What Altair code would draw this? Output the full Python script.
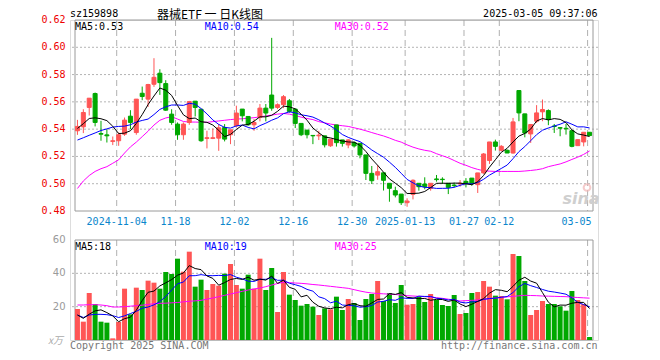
import altair as alt
import pandas as pd

# ---------------- data ----------------
dates = [
    "2024-10-24", "2024-10-25", "2024-10-28", "2024-10-29", "2024-10-30", "2024-10-31",
    "2024-11-01", "2024-11-04", "2024-11-05", "2024-11-06", "2024-11-07", "2024-11-08",
    "2024-11-11", "2024-11-12", "2024-11-13", "2024-11-14", "2024-11-15", "2024-11-18",
    "2024-11-19", "2024-11-20", "2024-11-21", "2024-11-22", "2024-11-25", "2024-11-26",
    "2024-11-27", "2024-11-28", "2024-11-29", "2024-12-02", "2024-12-03", "2024-12-04",
    "2024-12-05", "2024-12-06", "2024-12-09", "2024-12-10", "2024-12-11", "2024-12-12",
    "2024-12-13", "2024-12-16", "2024-12-17", "2024-12-18", "2024-12-19", "2024-12-20",
    "2024-12-23", "2024-12-24", "2024-12-25", "2024-12-26", "2024-12-27", "2024-12-30",
    "2024-12-31", "2025-01-02", "2025-01-03", "2025-01-06", "2025-01-07", "2025-01-08",
    "2025-01-09", "2025-01-10", "2025-01-13", "2025-01-14", "2025-01-15", "2025-01-16",
    "2025-01-17", "2025-01-20", "2025-01-21", "2025-01-22", "2025-01-23", "2025-01-24",
    "2025-01-27", "2025-02-05", "2025-02-06", "2025-02-07", "2025-02-10", "2025-02-11",
    "2025-02-12", "2025-02-13", "2025-02-14", "2025-02-17", "2025-02-18", "2025-02-19",
    "2025-02-20", "2025-02-21", "2025-02-24", "2025-02-25", "2025-02-26", "2025-02-27",
    "2025-02-28", "2025-03-03", "2025-03-04", "2025-03-05",
]

opens = [
    .5388, .5417, .5559, .5661, .5368, .5358, .5310, .5315, .5363, .5495,
    .5375, .5663, .5620, .5729, .5810, .5734, .5510, .5437, .5359, .5449,
    .5605, .5546, .5332, .5332, .5334, .5412, .5359, .5425, .5547, .5493,
    .5432, .5486, .5554, .5650, .5559, .5579, .5608, .5547, .5442, .5393,
    .5354, .5351, .5351, .5278, .5431, .5321, .5284, .5301, .5296, .5211,
    .5076, .5063, .5080, .5003, .4949, .4924, .4861, .4922, .5003, .4998,
    .4966, .5035, .5033, .5003, .4990, .4998, .5017, .5041, .4993, .5079,
    .5170, .5306, .5245, .5245, .5225, .5683, .5512, .5365, .5458, .5527,
    .5536, .5423, .5411, .5406, .5389, .5279, .5306, .5377,
]
highs = [
    .5468, .5546, .5627, .5668, .5461, .5400, .5346, .5376, .5485, .5539,
    .5621, .5712, .5732, .5920, .5839, .5759, .5546, .5449, .5449, .5607,
    .5605, .5546, .5388, .5405, .5437, .5437, .5395, .5572, .5547, .5493,
    .5474, .5584, .5584, .6069, .5589, .5650, .5621, .5550, .5442, .5393,
    .5356, .5388, .5351, .5327, .5431, .5321, .5326, .5310, .5296, .5211,
    .5130, .5137, .5080, .5003, .4978, .4924, .4893, .5032, .5003, .5047,
    .5003, .5064, .5047, .5003, .5008, .5027, .5041, .5041, .5079, .5225,
    .5306, .5323, .5283, .5250, .5482, .5683, .5512, .5438, .5576, .5617,
    .5545, .5438, .5415, .5438, .5389, .5323, .5377, .5377,
]
lows = [
    .5358, .5371, .5500, .5420, .5315, .5302, .5283, .5278, .5351, .5400,
    .5359, .5612, .5563, .5710, .5651, .5534, .5432, .5322, .5322, .5432,
    .5493, .5307, .5259, .5327, .5241, .5310, .5290, .5412, .5457, .5425,
    .5388, .5457, .5457, .5535, .5547, .5554, .5520, .5408, .5349, .5332,
    .5290, .5320, .5266, .5270, .5272, .5272, .5260, .5265, .5186, .5027,
    .4998, .5029, .4950, .4868, .4900, .4844, .4831, .4885, .4949, .4959,
    .4949, .5015, .4998, .4924, .4973, .4978, .4973, .4985, .4932, .5073,
    .5145, .5243, .5238, .5225, .5220, .5458, .5340, .5299, .5445, .5458,
    .5429, .5372, .5348, .5360, .5267, .5279, .5274, .5353,
]
closes = [
    .5420, .5522, .5627, .5449, .5363, .5351, .5315, .5359, .5466, .5449,
    .5620, .5639, .5727, .5780, .5741, .5539, .5449, .5359, .5437, .5602,
    .5559, .5315, .5337, .5337, .5410, .5327, .5395, .5518, .5498, .5432,
    .5449, .5554, .5518, .5554, .5579, .5638, .5530, .5442, .5359, .5359,
    .5351, .5356, .5285, .5327, .5301, .5296, .5321, .5277, .5211, .5076,
    .5022, .5088, .5025, .4966, .4917, .4861, .4873, .5025, .4978, .4978,
    .5003, .5030, .5030, .4973, .4986, .5003, .5002, .5002, .5079, .5218,
    .5306, .5274, .5274, .5225, .5453, .5519, .5372, .5434, .5519, .5544,
    .5470, .5419, .5407, .5402, .5274, .5323, .5377, .5353,
]
volumes = [
    18.6, 11.0, 28.2, 21.6, 11.0, 10.4, 1.0, 10.8, 30.8, 15.4,
    31.4, 30.0, 35.6, 34.4, 30.8, 40.8, 39.6, 48.8, 41.0, 53.0,
    32.0, 36.2, 30.0, 33.6, 32.6, 39.8, 45.6, 33.0, 30.8, 39.2,
    30.8, 48.8, 30.0, 43.2, 16.8, 40.8, 27.2, 24.0, 20.6, 21.6,
    20.0, 15.0, 19.0, 18.4, 26.0, 18.0, 24.6, 22.2, 12.0, 24.6,
    27.6, 35.4, 23.4, 28.2, 22.2, 33.0, 21.2, 21.6, 26.0, 22.8,
    27.6, 24.0, 21.0, 20.4, 27.0, 15.6, 16.2, 28.2, 28.8, 35.4,
    32.0, 26.6, 26.4, 24.4, 51.6, 50.4, 35.4, 15.0, 18.0, 23.4,
    21.6, 21.6, 20.2, 17.6, 29.4, 24.0, 21.6, 1.8,
]
# 30-day averages (they need history before the window)
ma30 = [
    .4965, .5020, .5060, .5090, .5110, .5125, .5150, .5175, .5225, .5270,
    .5305, .5345, .5385, .5430, .5465, .5482, .5491, .5474, .5456, .5452,
    .5452, .5450, .5450, .5455, .5460, .5465, .5470, .5474, .5476, .5480,
    .5484, .5490, .5497, .5503, .5510, .5515, .5510, .5500, .5488, .5478,
    .5470, .5455, .5446, .5437, .5430, .5425, .5420, .5410, .5400, .5388,
    .5375, .5362, .5350, .5335, .5318, .5305, .5285, .5268, .5255, .5245,
    .5238, .5220, .5205, .5190, .5170, .5150, .5135, .5118, .5105, .5095,
    .5092, .5090, .5090, .5090, .5090, .5090, .5093, .5097, .5102, .5110,
    .5125, .5135, .5145, .5160, .5178, .5195, .5215, .5240,
]
vma30 = [
    21.0, 21.0, 21.2, 21.2, 21.0, 20.6, 19.8, 19.8, 20.0, 20.3,
    20.6, 20.9, 21.3, 21.8, 22.0, 22.1, 22.3, 22.5, 22.9, 23.2,
    23.5, 23.8, 24.5, 25.2, 26.0, 26.8, 27.6, 28.4, 29.2, 30.0,
    30.6, 31.2, 32.0, 33.0, 33.9, 34.6, 34.4, 34.2, 34.0, 33.7,
    33.3, 33.0, 32.6, 32.2, 31.8, 31.4, 31.0, 30.2, 29.4, 28.7,
    28.2, 27.9, 27.7, 27.5, 27.3, 27.0, 26.6, 26.4, 26.2, 26.0,
    25.8, 25.4, 25.0, 24.5, 24.0, 23.4, 23.6, 23.8, 24.0, 24.4,
    24.8, 25.2, 25.5, 25.9, 26.2, 26.5, 26.8, 26.7, 26.6, 26.4,
    26.3, 26.2, 26.1, 26.0, 25.7, 25.5, 25.3, 25.1,
]
# first values of the short averages
ma5_head = [0.5405, 0.5440, 0.5478, 0.5483]
ma10_head = [0.5320, 0.5337, 0.5355, 0.5372, 0.5390, 0.5402, 0.5415, 0.5420, 0.5422]
vma5_head = [15.0, 13.0, 15.5, 17.5]
vma10_head = [15.0, 13.5, 15.0, 15.4, 15.4, 15.2, 14.6, 13.5, 14.5]

tick_dates = ["2024-11-04", "2024-11-18", "2024-12-02", "2024-12-16", "2024-12-30",
              "2025-01-13", "2025-01-27", "2025-02-12", "2025-03-05"]
tick_labels = ["2024-11-04", "11-18", "12-02", "12-16", "12-30",
               "2025-01-13", "01-27", "02-12", "03-05"]
price_levels = [0.48, 0.50, 0.52, 0.54, 0.56, 0.58, 0.60, 0.62]
vol_levels = [20, 40, 60]

# ---------------- tables ----------------
n = len(dates)
df = pd.DataFrame({"i": range(n), "date": dates, "open": opens, "high": highs,
                   "low": lows, "close": closes, "vol": volumes,
                   "ma30": ma30, "vma30": vma30})
df["dir"] = ["up" if c >= o else "down" for o, c in zip(opens, closes)]


def rolling_with_head(values, w, head):
    s = pd.Series(values).rolling(w).mean()
    s.iloc[:len(head)] = head
    return s.values


df["ma5"] = rolling_with_head(closes, 5, ma5_head)
df["ma10"] = rolling_with_head(closes, 10, ma10_head)
df["vma5"] = rolling_with_head(volumes, 5, vma5_head)
df["vma10"] = rolling_with_head(volumes, 10, vma10_head)

RED, GREEN = "#ff5555", "#00a800"
BLUE, MAG = "#0000ff", "#ff00ff"
XBLUE = "#0a86cc"
MONO = "DejaVu Sans Mono"
CJK = "Noto Sans CJK SC"

D0 = -2.5 / 6
D1 = D0 + 88
xs = alt.Scale(domain=[D0, D1], nice=False, zero=False)
ps = alt.Scale(domain=[0.48, 0.62], range=[191, 0], nice=False, zero=False)
vs = alt.Scale(domain=[0, 60], range=[320, 220], nice=False, zero=False)
cs = alt.Scale(domain=["up", "down"], range=[RED, GREEN])

didx = {d: k for k, d in enumerate(dates)}
ticks = pd.DataFrame({"t": [didx[d] - 1 / 3 for d in tick_dates], "lab": tick_labels,
                      "ptop": 0.62, "pbot": 0.48, "vtop": 60, "vbot": 0})
frame = pd.DataFrame({"x0": [D0], "x1": [D1], "p0": [0.62], "p1": [0.48], "v0": [60], "v1": [0]})
pgrid = pd.DataFrame({"p": price_levels[1:-1]})
plab = pd.DataFrame({"p": price_levels})
vgrid = pd.DataFrame({"v": [20, 40]})
vlab = pd.DataFrame({"v": vol_levels, "lab": [str(v) for v in vol_levels]})

X = alt.X("i:Q", scale=xs, axis=None)
base = alt.Chart(df)

# ---------------- price panel ----------------
p_hgrid = alt.Chart(pgrid).mark_rule(color="#b4b4b4", strokeDash=[2, 2], strokeWidth=1).encode(
    y=alt.Y("p:Q", scale=ps, axis=None))
p_vgrid = alt.Chart(ticks).mark_rule(color="#b0b0b0", strokeDash=[6, 4], strokeWidth=1).encode(
    x=alt.X("t:Q", scale=xs, axis=None), y=alt.Y("ptop:Q", scale=ps, axis=None), y2="pbot:Q")
p_frame = alt.Chart(frame).mark_rect(fillOpacity=0, stroke="#9a9a9a", strokeWidth=1).encode(
    x=alt.X("x0:Q", scale=xs, axis=None), x2="x1:Q",
    y=alt.Y("p0:Q", scale=ps, axis=None), y2="p1:Q")
wick = base.mark_rule(strokeWidth=1).encode(
    x=X, y=alt.Y("low:Q", scale=ps, axis=None), y2="high:Q",
    color=alt.Color("dir:N", scale=cs, legend=None))
body = base.mark_bar(size=4, strokeWidth=1).encode(
    x=X, y=alt.Y("open:Q", scale=ps, axis=None), y2="close:Q",
    color=alt.Color("dir:N", scale=cs, legend=None),
    stroke=alt.Stroke("dir:N", scale=cs, legend=None))
l_ma30 = base.mark_line(color=MAG, strokeWidth=1).encode(x=X, y=alt.Y("ma30:Q", scale=ps, axis=None))
l_ma10 = base.mark_line(color=BLUE, strokeWidth=1).encode(x=X, y=alt.Y("ma10:Q", scale=ps, axis=None))
l_ma5 = base.mark_line(color="black", strokeWidth=1).encode(x=X, y=alt.Y("ma5:Q", scale=ps, axis=None))
p_labels = alt.Chart(plab).mark_text(align="right", baseline="middle", font=MONO, fontSize=10,
                                     color="#ee0000").encode(
    x=alt.value(-4.5), y=alt.Y("p:Q", scale=ps, axis=None), text=alt.Text("p:Q", format=".2f"))
x_labels = alt.Chart(ticks.iloc[:-1]).mark_text(align="center", baseline="middle", font=MONO,
                                                fontSize=10, color=XBLUE).encode(
    x=alt.X("t:Q", scale=xs, axis=None), y=alt.value(202), text="lab:N")
x_last = alt.Chart(ticks.iloc[-1:]).mark_text(align="right", baseline="middle", font=MONO,
                                              fontSize=10, color=XBLUE).encode(
    x=alt.value(521.5), y=alt.value(202), text="lab:N")

ma_txt = pd.DataFrame({
    "text": [f"MA5:{df['ma5'].iloc[-1]:.2f}", f"MA10:{df['ma10'].iloc[-1]:.2f}",
             f"MA30:{df['ma30'].iloc[-1]:.2f}",
             f"MA5:{int(df['vma5'].iloc[-1])}", f"MA10:{int(df['vma10'].iloc[-1])}",
             f"MA30:{int(df['vma30'].iloc[-1])}",
             "sz159898", "Copyright 2025 SINA.COM"],
    "x": [5, 134.7, 264.7, 5, 134.7, 264.7, 0, 0],
    "y": [7.2, 7.2, 7.2, 227, 227, 227, -6.5, 325.5],
    "c": ["black", BLUE, MAG, "black", BLUE, MAG, "black", "#777777"],
})
left_txt = alt.Chart(ma_txt).mark_text(align="left", baseline="middle", font=MONO, fontSize=10).encode(
    x=alt.X("x:Q", scale=None), y=alt.Y("y:Q", scale=None), text="text:N",
    color=alt.Color("c:N", scale=None))
right_df = pd.DataFrame({"text": ["2025-03-05 09:37:06", "http://finance.sina.com.cn"],
                         "x": [527.5, 527.5], "y": [-6.5, 325.5], "c": ["black", "#777777"]})
right_txt = alt.Chart(right_df).mark_text(align="right", baseline="middle", font=MONO, fontSize=10).encode(
    x=alt.X("x:Q", scale=None), y=alt.Y("y:Q", scale=None), text="text:N",
    color=alt.Color("c:N", scale=None))
title_txt = alt.Chart(pd.DataFrame({"t": ["器械ETF 一 日K线图"]})).mark_text(
    align="center", baseline="alphabetic", font=CJK, fontSize=12, color="black").encode(
    x=alt.value(140), y=alt.value(-1.2), text="t:N")
logo = alt.Chart(pd.DataFrame({"t": ["sina"]})).mark_text(
    align="center", baseline="middle", font="DejaVu Sans", fontSize=16, fontWeight="bold",
    fontStyle="italic", color="#cfcfcf").encode(x=alt.value(511), y=alt.value(179), text="t:N")
logo_eye = alt.Chart(pd.DataFrame({"t": ["o"]})).mark_point(
    filled=False, color="#f2b6b6", strokeWidth=2, size=45).encode(x=alt.value(517), y=alt.value(167.5))

price = alt.layer(p_hgrid, p_vgrid, p_frame, logo, logo_eye, l_ma30, wick, body, l_ma10, l_ma5,
                  p_labels, x_labels, x_last, left_txt, right_txt, title_txt)

# ---------------- volume panel ----------------
v_hgrid = alt.Chart(vgrid).mark_rule(color="#b4b4b4", strokeDash=[2, 2], strokeWidth=1).encode(
    y=alt.Y("v:Q", scale=vs, axis=None))
v_vgrid = alt.Chart(ticks).mark_rule(color="#b0b0b0", strokeDash=[6, 4], strokeWidth=1).encode(
    x=alt.X("t:Q", scale=xs, axis=None), y=alt.Y("vtop:Q", scale=vs, axis=None), y2="vbot:Q")
v_frame = alt.Chart(frame).mark_rect(fillOpacity=0, stroke="#9a9a9a", strokeWidth=1).encode(
    x=alt.X("x0:Q", scale=xs, axis=None), x2="x1:Q",
    y=alt.Y("v0:Q", scale=vs, axis=None), y2="v1:Q")
vbars = base.mark_bar(size=5).encode(
    x=X, y=alt.Y("vol:Q", scale=vs, axis=None),
    color=alt.Color("dir:N", scale=cs, legend=None))
v_ma30 = base.mark_line(color=MAG, strokeWidth=1).encode(x=X, y=alt.Y("vma30:Q", scale=vs, axis=None))
v_ma10 = base.mark_line(color=BLUE, strokeWidth=1).encode(x=X, y=alt.Y("vma10:Q", scale=vs, axis=None))
v_ma5 = base.mark_line(color="black", strokeWidth=1).encode(x=X, y=alt.Y("vma5:Q", scale=vs, axis=None))
v_labels = alt.Chart(vlab).mark_text(align="right", baseline="middle", font="DejaVu Sans",
                                     fontSize=10, color="#9a9a9a").encode(
    x=alt.value(-4.5), y=alt.Y("v:Q", scale=vs, axis=None), text="lab:N")
unit_txt = alt.Chart(pd.DataFrame({"t": ["x万"]})).mark_text(
    align="right", baseline="middle", font=CJK, fontSize=10, fontStyle="italic",
    color="#aaaaaa").encode(x=alt.value(-7), y=alt.value(321), text="t:N")

volume = alt.layer(v_hgrid, v_vgrid, v_frame, vbars, v_ma30, v_ma10, v_ma5, v_labels, unit_txt)

chart = alt.layer(price, volume).resolve_scale(y="independent").properties(
    width=528, height=320,
    padding={"left": 62, "top": 12, "right": 54, "bottom": 14},
    autosize=alt.AutoSizeParams(type="none"),
).configure_view(stroke=None).configure(background="white")

chart.save("out.html", embed_options={"renderer": "svg", "actions": False})
